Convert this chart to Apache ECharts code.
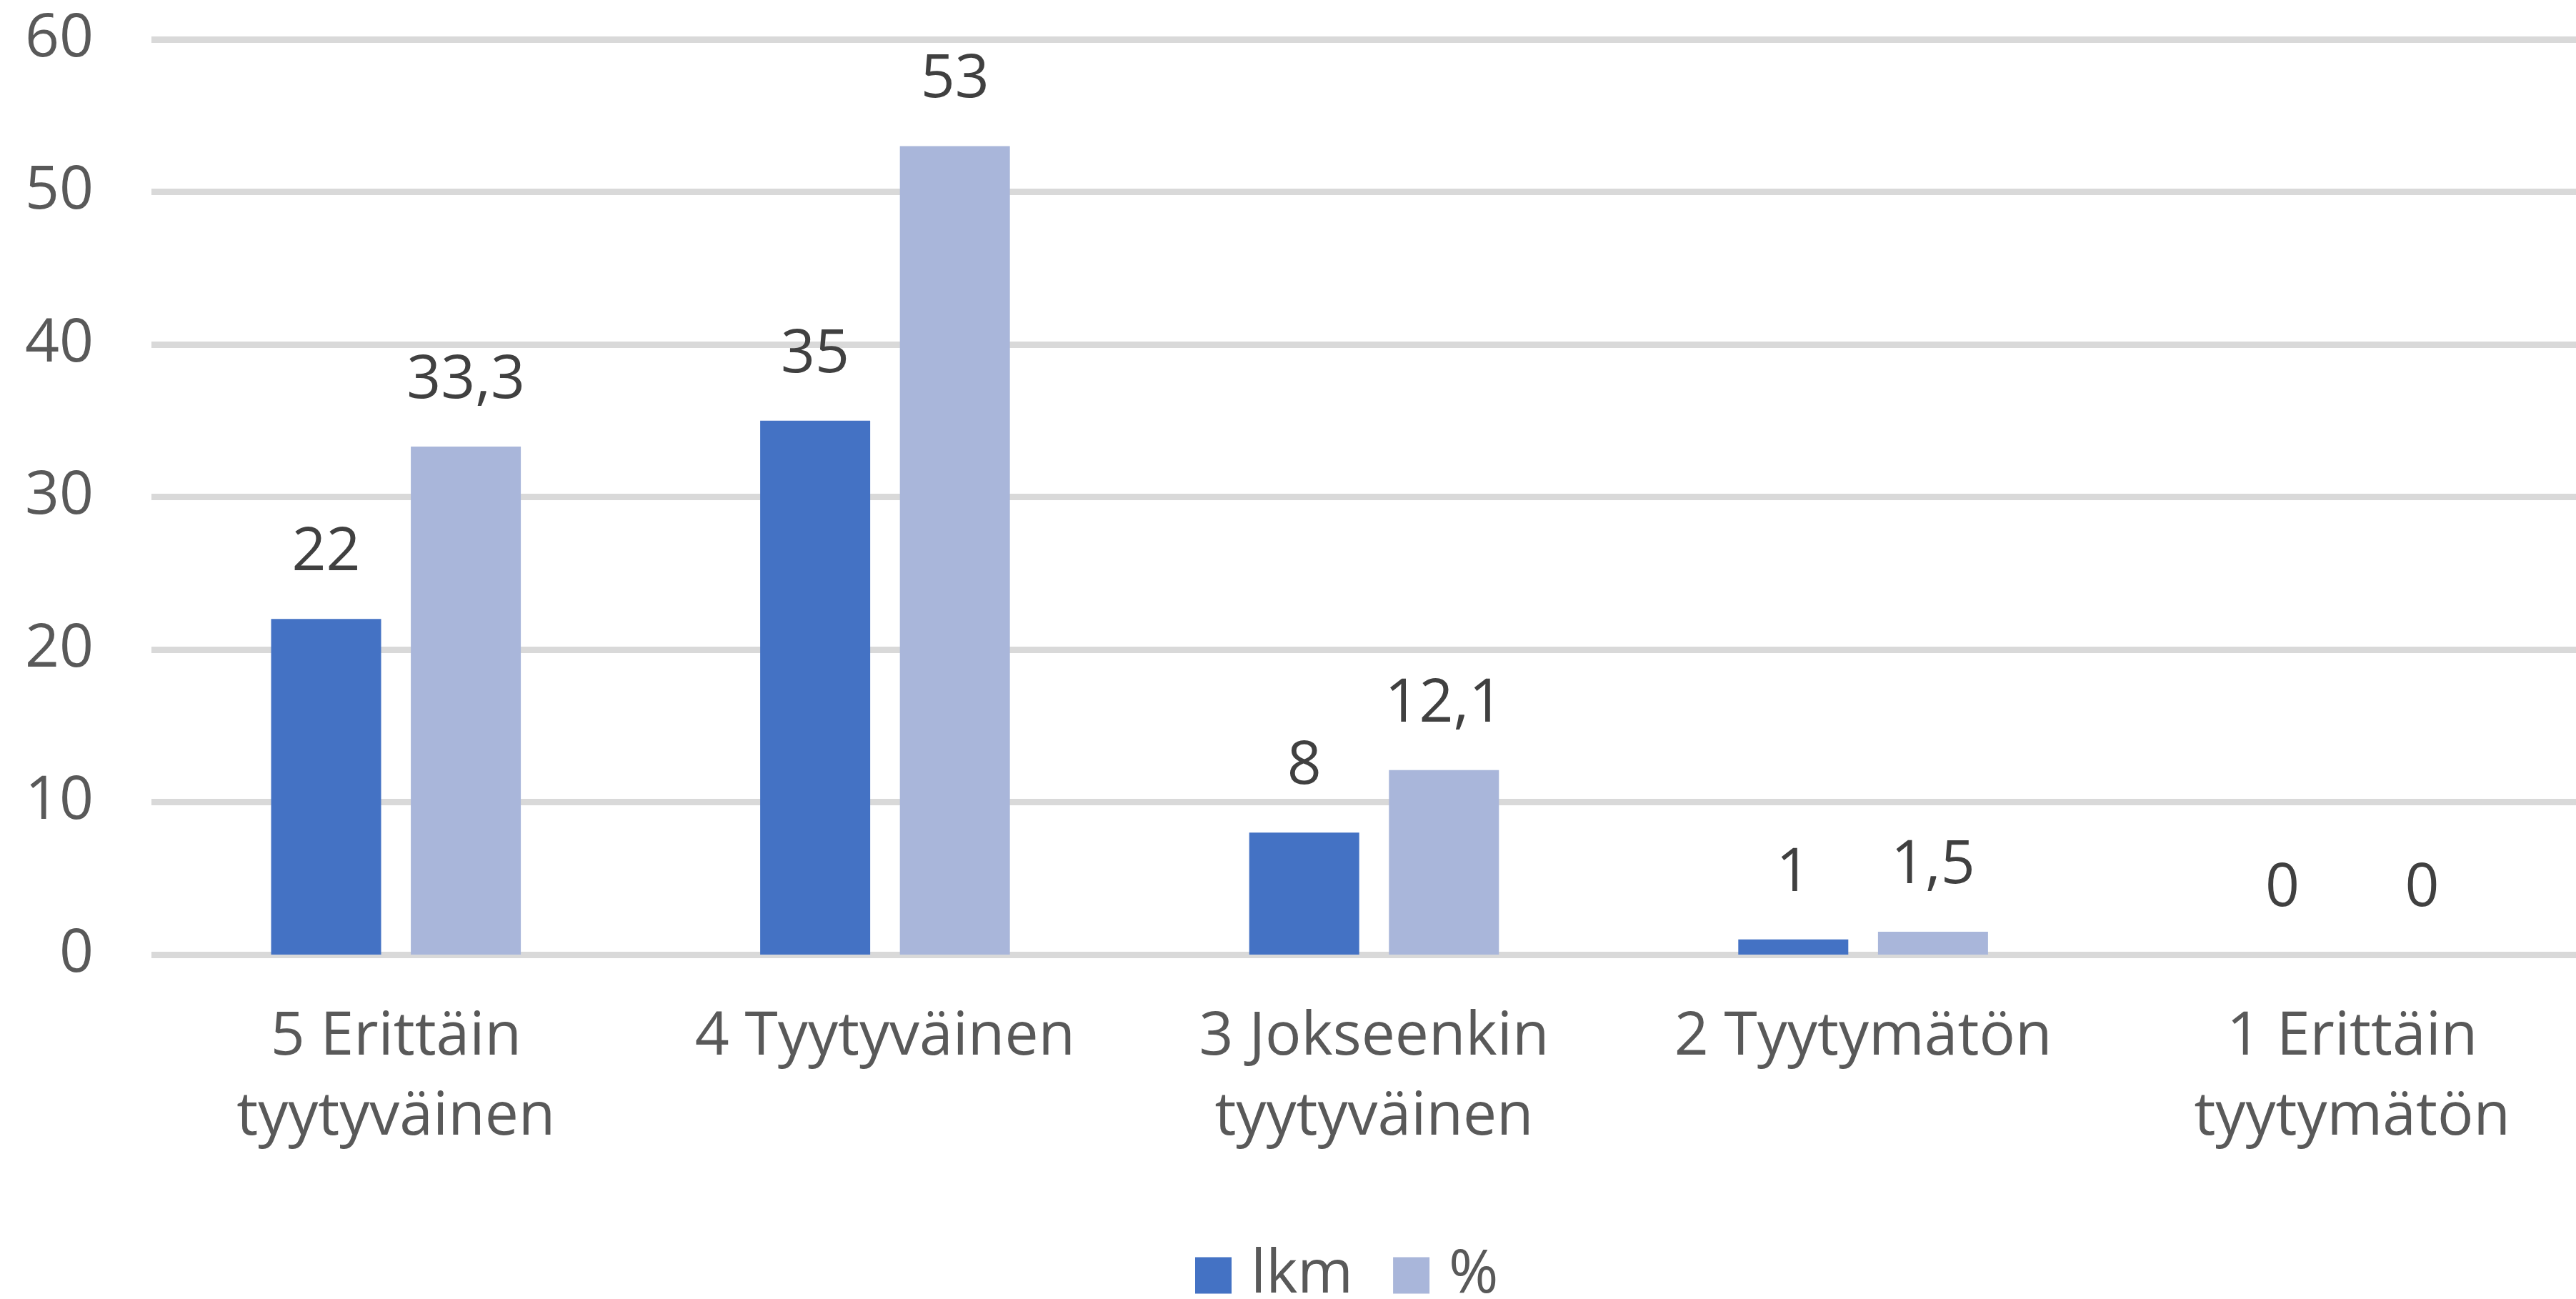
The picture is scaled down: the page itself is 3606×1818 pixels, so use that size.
<!DOCTYPE html>
<html>
<head>
<meta charset="utf-8">
<script src="https://cdn.jsdelivr.net/npm/echarts@6/dist/echarts.min.js"></script>
<style>
  html, body { margin: 0; padding: 0; background: #ffffff; }
  #main { width: 3606px; height: 1818px; }
</style>
</head>
<body>
<div id="main"></div>
<script>
const categories = [
  '5 Erittäin\ntyytyväinen',
  '4 Tyytyväinen',
  '3 Jokseenkin\ntyytyväinen',
  '2 Tyytymätön',
  '1 Erittäin\ntyytymätön'
]
const lkmValues = [22, 35, 8, 1, 0]
const pctValues = [33.3, 53, 12.1, 1.5, 0]
const yTicks = [0, 10, 20, 30, 40, 50, 60]

const fontFamily = '"Open Sans", sans-serif'

// decimal comma like the original
const fmt = (p) => String(p.value).replace('.', ',')

const chart = echarts.init(document.getElementById('main'))

const dataLabel = {
  show: true,
  position: 'top',
  distance: 50,
  formatter: fmt,
  color: '#404040',
  fontFamily: fontFamily,
  fontSize: 84,
  lineHeight: 84
}

const option = {
  backgroundColor: '#ffffff',
  animation: false,
  grid: {
    left: 212,
    right: -29,
    top: 55,
    bottom: 482,
    outerBoundsMode: 'none'
  },
  legend: {
    data: ['lkm', '%'],
    left: 1668,
    top: 1738,
    itemWidth: 51,
    itemHeight: 51,
    itemGap: 56,
    icon: 'rect',
    textStyle: {
      color: '#595959',
      fontFamily: fontFamily,
      fontSize: 84,
      padding: [0, 0, 0, 22]
    }
  },
  xAxis: {
    type: 'category',
    data: categories,
    axisLine: { show: false },
    axisTick: { show: false },
    axisLabel: {
      color: '#595959',
      fontFamily: fontFamily,
      fontSize: 84,
      lineHeight: 112,
      margin: 60,
      interval: 0
    }
  },
  yAxis: {
    type: 'value',
    min: yTicks[0],
    max: yTicks[yTicks.length - 1],
    interval: 10,
    axisLine: { show: false },
    axisTick: { show: false },
    axisLabel: {
      color: '#595959',
      fontFamily: fontFamily,
      fontSize: 84,
      margin: 81
    },
    splitLine: {
      lineStyle: { color: '#D9D9D9', width: 9 }
    }
  },
  series: [
    {
      name: 'lkm',
      type: 'bar',
      data: lkmValues,
      barWidth: 154,
      barGap: '27%',
      itemStyle: { color: '#4472C4' },
      label: dataLabel
    },
    {
      name: '%',
      type: 'bar',
      data: pctValues,
      barWidth: 154,
      itemStyle: { color: '#A9B6DA' },
      label: dataLabel
    }
  ]
}

chart.setOption(option)
</script>
</body>
</html>
